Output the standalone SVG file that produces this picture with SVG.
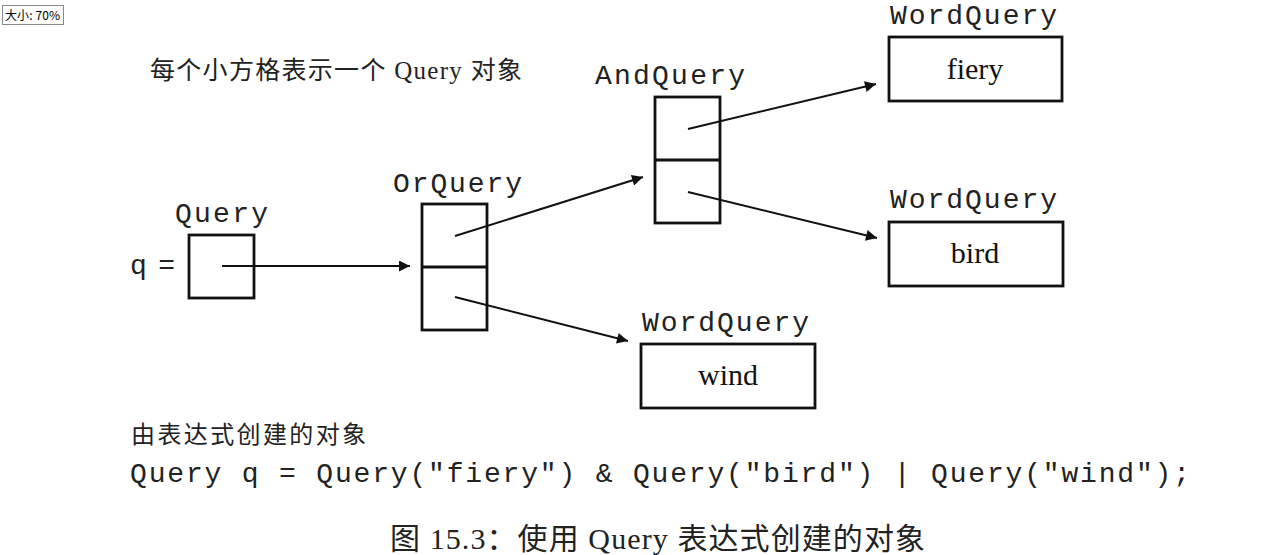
<svg xmlns="http://www.w3.org/2000/svg" width="1280" height="555" viewBox="0 0 1280 555">
<style>
.box{fill:none;stroke:#111;stroke-width:2.8}
.mono{font-family:"Liberation Mono","DejaVu Sans Mono",monospace;font-size:28px;fill:#222}
.word{font-family:"Liberation Serif",serif;font-size:30px;fill:#111;text-anchor:middle}
.cjk{font-family:"Liberation Serif","Noto Sans CJK SC",serif;fill:#222}
.conn line{stroke:#111;stroke-width:2}
</style>
<defs>
<marker id="ah2" viewBox="0 0 10 10" refX="10" refY="5" markerWidth="18" markerHeight="11" markerUnits="userSpaceOnUse" orient="auto">
<path d="M0,0 L10,5 L0,10 z" fill="#111"/>
</marker>
</defs>
<rect width="1280" height="555" fill="#fff"/>
<g id="badge">
<rect x="2.5" y="5.5" width="61" height="19" fill="#fff" stroke="#888" stroke-width="1"/>
<text x="5" y="20" font-family="'Noto Sans CJK SC','Liberation Sans',sans-serif" font-size="12" fill="#000" textLength="55">大小: 70%</text>
</g>
<text class="cjk" x="150" y="79" font-size="25" textLength="372">每个小方格表示一个 Query 对象</text>
<g id="query">
<text class="mono" x="175" y="222" textLength="93">Query</text>
<text class="mono" x="130" y="274" textLength="45">q =</text>
<rect class="box" x="189" y="235" width="65" height="63"/>
</g>
<g id="orquery">
<text class="mono" x="393" y="192" textLength="129">OrQuery</text>
<rect class="box" x="422" y="204" width="65" height="126"/>
<line x1="422" y1="267" x2="487" y2="267" stroke="#111" stroke-width="2.8"/>
</g>
<g id="andquery">
<text class="mono" x="595" y="84" textLength="150">AndQuery</text>
<rect class="box" x="655" y="97" width="65" height="126"/>
<line x1="655" y1="160" x2="720" y2="160" stroke="#111" stroke-width="2.8"/>
</g>
<g id="wq-fiery">
<text class="mono" x="890" y="24" textLength="167">WordQuery</text>
<rect class="box" x="889" y="37" width="173" height="64"/>
<text class="word" x="975" y="79">fiery</text>
</g>
<g id="wq-bird">
<text class="mono" x="890" y="208" textLength="167">WordQuery</text>
<rect class="box" x="889" y="222" width="174" height="64"/>
<text class="word" x="975" y="263">bird</text>
</g>
<g id="wq-wind">
<text class="mono" x="642" y="331" textLength="167">WordQuery</text>
<rect class="box" x="641" y="344" width="174" height="64"/>
<text class="word" x="728" y="385">wind</text>
</g>
<g id="connectors" class="conn">
<line x1="222" y1="266" x2="410" y2="266" stroke-width="3" marker-end="url(#ah2)"/>
<line x1="455" y1="236" x2="643" y2="177" marker-end="url(#ah2)"/>
<line x1="455" y1="297" x2="628" y2="341" marker-end="url(#ah2)"/>
<line x1="688" y1="129" x2="876" y2="84" marker-end="url(#ah2)"/>
<line x1="688" y1="192" x2="877" y2="238" marker-end="url(#ah2)"/>
</g>
<text class="cjk" x="131" y="443" font-size="24" textLength="235">由表达式创建的对象</text>
<text class="mono" x="130" y="482" textLength="1060">Query q = Query("fiery") &amp; Query("bird") | Query("wind");</text>
<text class="cjk" x="390" y="549" font-size="30" textLength="535">图 15.3：使用 Query 表达式创建的对象</text>
</svg>
